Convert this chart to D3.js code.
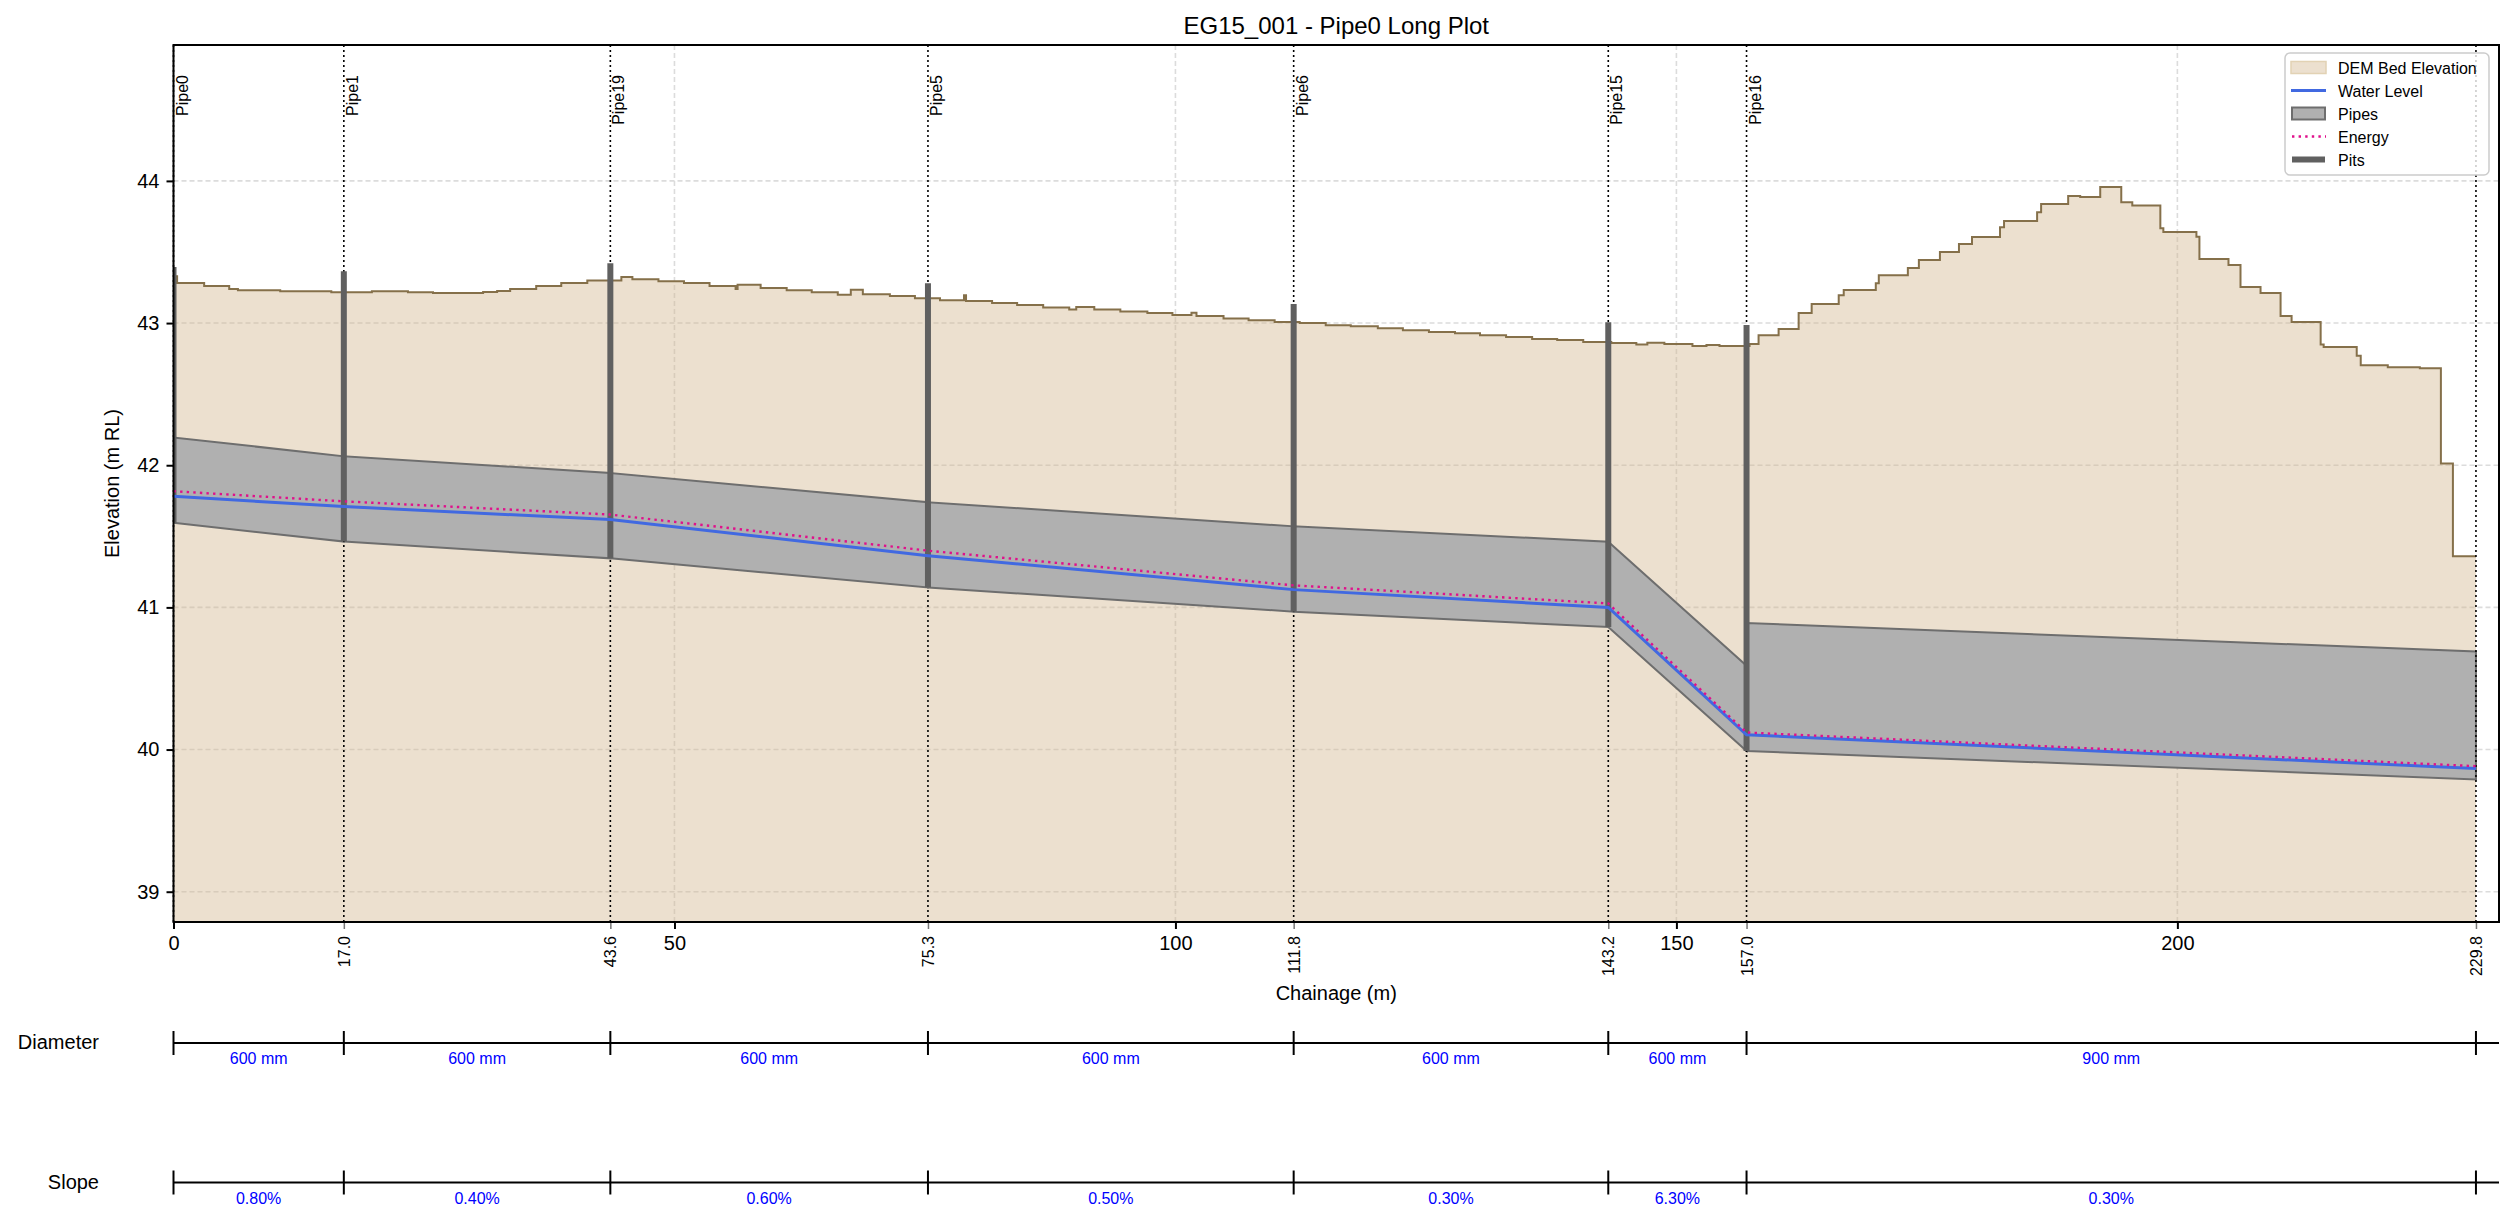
<!DOCTYPE html>
<html lang="en">
<head>
<meta charset="utf-8">
<title>EG15_001 - Pipe0 Long Plot</title>
<script src="https://cdn.jsdelivr.net/npm/d3@7"></script>
<style>
body { margin: 0; background: #fff; }
svg { font-family: "Liberation Sans", Arial, sans-serif; }
</style>
</head>
<body>
<script>

// Data ------------------------------------------------------------------------
var nodeChainage = [0, 17.0, 43.6, 75.3, 111.8, 143.2, 157.0, 229.8];
var pipeNames = ["Pipe0", "Pipe1", "Pipe19", "Pipe5", "Pipe6", "Pipe15", "Pipe16"];
var pipeDiameter = [600, 600, 600, 600, 600, 600, 900];
var pipeSlope = [0.80, 0.40, 0.60, 0.50, 0.30, 6.30, 0.30];
var pipeUsInvert = [41.595, 41.463, 41.345, 41.14, 40.97, 40.862, 39.99];
var pipeDsInvert = [41.463, 41.345, 41.14, 40.97, 40.862, 39.99, 39.79];
var pitTop = [43.394, 43.364, 43.42, 43.28, 43.134, 43.005, 42.986];
var waterLevel = [41.782, 41.709, 41.618, 41.364, 41.125, 41.0, 40.104, 39.866];
var energyLevel = [41.817, 41.746, 41.653, 41.399, 41.155, 41.028, 40.12, 39.883];

var demChainage = [0, 0.36, 3.06, 5.56, 6.43, 10.65, 15.75, 19.8, 23.4, 25.9, 30.9, 32.3, 33.6, 36.2, 38.7,
    41.3, 44.7, 45.8, 48.4, 50.95, 53.5, 56.1, 56.3, 58.6, 61.2, 63.7, 66.3, 67.6, 68.8, 71.5, 74.0, 76.5,
    78.9, 79.1, 81.7, 84.2, 86.8, 89.4, 90.1, 91.9, 94.5, 97.2, 99.7, 101.6, 102.1, 104.8, 107.3, 109.9,
    112.4, 115.0, 117.5, 120.2, 122.7, 125.3, 127.9, 130.4, 133.0, 135.6, 138.1, 140.7, 143.5, 146.0,
    147.1, 148.8, 151.6, 153.0, 154.3, 157.3, 158.2, 160.2, 162.2, 163.5, 166.2, 166.7, 169.9, 170.2,
    173.1, 174.2, 176.3, 178.2, 179.5, 182.3, 182.7, 186.0, 186.4, 189.1, 190.3, 192.3, 194.4, 195.5,
    198.3, 198.6, 201.9, 202.2, 205.1, 206.3, 208.3, 210.3, 211.4, 214.3, 214.6, 217.9, 218.3, 221.0,
    224.2, 226.3, 227.5, 229.8];
var demElevation = [43.33, 43.282, 43.261, 43.24, 43.23, 43.223, 43.216, 43.223, 43.216, 43.211, 43.218,
    43.225, 43.24, 43.26, 43.282, 43.30, 43.324, 43.308, 43.294, 43.282, 43.26, 43.24, 43.27, 43.247,
    43.23, 43.216, 43.20, 43.235, 43.202, 43.19, 43.174, 43.16, 43.196, 43.155, 43.141, 43.127, 43.11,
    43.096, 43.113, 43.096, 43.082, 43.07, 43.056, 43.073, 43.049, 43.033, 43.019, 43.007, 43.0, 42.984,
    42.977, 42.963, 42.949, 42.937, 42.928, 42.914, 42.902, 42.888, 42.881, 42.867, 42.86, 42.85, 42.862,
    42.853, 42.839, 42.846, 42.839, 42.852, 42.915, 42.958, 43.07, 43.134, 43.195, 43.232, 43.28, 43.336,
    43.387, 43.444, 43.5, 43.556, 43.606, 43.674, 43.718, 43.78, 43.838, 43.894, 43.887, 43.958, 43.85,
    43.827, 43.667, 43.641, 43.607, 43.451, 43.408, 43.254, 43.211, 43.049, 43.007, 42.85, 42.831, 42.77,
    42.704, 42.69, 42.683, 42.012, 41.359, 41.359];

var xMajorTicks = [0, 50, 100, 150, 200];
var yMajorTicks = [39, 40, 41, 42, 43, 44];
var legendLabels = ["DEM Bed Elevation", "Water Level", "Pipes", "Energy", "Pits"];

// Sizes & scales ---------------------------------------------------------------
var width = 2512, height = 1221;
var plotLeft = 173.5, plotRight = 2499, plotTop = 45, plotBottom = 922;

var x = d3.scaleLinear().domain([0, 232.1]).range([plotLeft, plotRight]);
var y = d3.scaleLinear().domain([38.787, 44.956]).range([plotBottom, plotTop]);

var svg = d3.select("body").append("svg")
    .attr("width", width)
    .attr("height", height);

svg.append("defs").append("clipPath").attr("id", "plotClip")
    .append("rect")
    .attr("x", plotLeft).attr("y", plotTop)
    .attr("width", plotRight - plotLeft).attr("height", plotBottom - plotTop);

// Grid -------------------------------------------------------------------------
var grid = svg.append("g");
grid.selectAll(".gx").data(xMajorTicks).join("line")
    .attr("x1", d => x(d)).attr("x2", d => x(d))
    .attr("y1", plotTop).attr("y2", plotBottom)
    .attr("stroke", "#dcdcdc").attr("stroke-width", 1.6).attr("stroke-dasharray", "5,3");
grid.selectAll(".gy").data(yMajorTicks).join("line")
    .attr("x1", plotLeft).attr("x2", plotRight)
    .attr("y1", d => y(d)).attr("y2", d => y(d))
    .attr("stroke", "#dcdcdc").attr("stroke-width", 1.6).attr("stroke-dasharray", "5,3");

var plot = svg.append("g").attr("clip-path", "url(#plotClip)");

// DEM ground -------------------------------------------------------------------
var demData = demChainage.map((c, i) => ({c: c, v: demElevation[i]}));
plot.append("path").datum(demData)
    .attr("d", d3.area().curve(d3.curveStepAfter)
        .x(d => x(d.c)).y0(plotBottom).y1(d => y(d.v)))
    .attr("fill", "#d2b48c").attr("fill-opacity", 0.42);
plot.append("path").datum(demData)
    .attr("d", d3.line().curve(d3.curveStepAfter).x(d => x(d.c)).y(d => y(d.v)))
    .attr("fill", "none").attr("stroke", "#85704a").attr("stroke-width", 2);

// Pipes ------------------------------------------------------------------------
var pipes = pipeNames.map((name, i) => ({
    name: name, us: nodeChainage[i], ds: nodeChainage[i + 1],
    usInv: pipeUsInvert[i], dsInv: pipeDsInvert[i],
    dia: pipeDiameter[i] / 1000, slope: pipeSlope[i], mm: pipeDiameter[i]
}));
plot.selectAll(".pipe").data(pipes).join("path")
    .attr("d", p => d3.line()([
        [x(p.us), y(p.usInv)], [x(p.ds), y(p.dsInv)],
        [x(p.ds), y(p.dsInv + p.dia)], [x(p.us), y(p.usInv + p.dia)]]) + "Z")
    .attr("fill", "#b0b0b0").attr("stroke", "#6e6e6e").attr("stroke-width", 2)
    .attr("stroke-linejoin", "miter");

// Node lines (dotted) ----------------------------------------------------------
svg.append("g").selectAll("line").data(nodeChainage).join("line")
    .attr("x1", d => x(d)).attr("x2", d => x(d))
    .attr("y1", plotTop).attr("y2", plotBottom)
    .attr("stroke", "#000").attr("stroke-width", 1.6).attr("stroke-dasharray", "2,3");

var overlay = svg.append("g").attr("clip-path", "url(#plotClip)");

// Pits -------------------------------------------------------------------------
overlay.selectAll(".pit").data(pitTop).join("line")
    .attr("x1", (d, i) => x(nodeChainage[i])).attr("x2", (d, i) => x(nodeChainage[i]))
    .attr("y1", d => y(d))
    .attr("y2", (d, i) => {
        var inv = [];
        if (i < pipeUsInvert.length) inv.push(pipeUsInvert[i]);
        if (i > 0) inv.push(pipeDsInvert[i - 1]);
        return y(d3.min(inv));
    })
    .attr("stroke", "#606060").attr("stroke-width", 6);

// Water & energy ---------------------------------------------------------------
var hydLine = d3.line().x((d, i) => x(nodeChainage[i])).y(d => y(d));
overlay.append("path").datum(waterLevel).attr("d", hydLine)
    .attr("fill", "none").attr("stroke", "#4169e1").attr("stroke-width", 3);
overlay.append("path").datum(energyLevel).attr("d", hydLine)
    .attr("fill", "none").attr("stroke", "#e0108c").attr("stroke-width", 2.4)
    .attr("stroke-dasharray", "2.4,4.2");

// Pipe labels ------------------------------------------------------------------
svg.append("g").selectAll("text").data(pipes).join("text")
    .attr("transform", p => "translate(" + (x(p.us) + 14) + ",75) rotate(-90)")
    .attr("text-anchor", "end")
    .attr("font-size", 16)
    .text(p => p.name);

// Axes -------------------------------------------------------------------------
var xAxis = svg.append("g").attr("transform", "translate(0," + plotBottom + ")")
    .call(d3.axisBottom(x).tickValues(xMajorTicks).tickFormat(d3.format("d"))
        .tickSize(7).tickPadding(7));
xAxis.select(".domain").remove();
xAxis.selectAll(".tick line").attr("stroke-width", 2);
xAxis.selectAll("text").attr("font-size", 20).attr("font-family", "Liberation Sans, Arial, sans-serif");

var nodeAxis = svg.append("g").attr("transform", "translate(0," + plotBottom + ")")
    .call(d3.axisBottom(x).tickValues(nodeChainage.slice(1)).tickFormat(d3.format(".1f"))
        .tickSize(7));
nodeAxis.select(".domain").remove();
nodeAxis.selectAll(".tick line").attr("stroke", "#777").attr("stroke-width", 1.5);
nodeAxis.selectAll("text")
    .attr("transform", "rotate(-90)")
    .attr("x", -14).attr("y", 0).attr("dy", "0.35em")
    .attr("text-anchor", "end")
    .attr("font-size", 16).attr("font-family", "Liberation Sans, Arial, sans-serif");

var yAxis = svg.append("g").attr("transform", "translate(" + plotLeft + ",0)")
    .call(d3.axisLeft(y).tickValues(yMajorTicks).tickFormat(d3.format("d"))
        .tickSize(7).tickPadding(7));
yAxis.select(".domain").remove();
yAxis.selectAll(".tick line").attr("stroke-width", 2);
yAxis.selectAll("text").attr("font-size", 20).attr("font-family", "Liberation Sans, Arial, sans-serif");

// frame
svg.append("rect")
    .attr("x", plotLeft).attr("y", plotTop)
    .attr("width", plotRight - plotLeft).attr("height", plotBottom - plotTop)
    .attr("fill", "none").attr("stroke", "#000").attr("stroke-width", 2);

// titles
svg.append("text").attr("x", (plotLeft + plotRight) / 2).attr("y", 34)
    .attr("text-anchor", "middle").attr("font-size", 24)
    .text("EG15_001 - Pipe0 Long Plot");
svg.append("text").attr("x", (plotLeft + plotRight) / 2).attr("y", 1000)
    .attr("text-anchor", "middle").attr("font-size", 20)
    .text("Chainage (m)");
svg.append("text")
    .attr("transform", "translate(119," + ((plotTop + plotBottom) / 2) + ") rotate(-90)")
    .attr("text-anchor", "middle").attr("font-size", 20)
    .text("Elevation (m RL)");

// Legend -----------------------------------------------------------------------
var legend = svg.append("g").attr("transform", "translate(2285,53)");
legend.append("rect").attr("width", 204).attr("height", 122).attr("rx", 5)
    .attr("fill", "#fff").attr("fill-opacity", 0.8)
    .attr("stroke", "#cccccc").attr("stroke-width", 1.5);
var rowY = legendLabels.map((d, i) => 14.5 + i * 23);
legend.append("rect").attr("x", 6).attr("y", rowY[0] - 6).attr("width", 35).attr("height", 12)
    .attr("fill", "#d2b48c").attr("fill-opacity", 0.42).attr("stroke", "#e2d2b4").attr("stroke-width", 1.5);
legend.append("line").attr("x1", 6).attr("x2", 41).attr("y1", rowY[1]).attr("y2", rowY[1])
    .attr("stroke", "#4169e1").attr("stroke-width", 3);
legend.append("rect").attr("x", 7).attr("y", rowY[2] - 6).attr("width", 33).attr("height", 12)
    .attr("fill", "#b0b0b0").attr("stroke", "#6e6e6e").attr("stroke-width", 2);
legend.append("line").attr("x1", 7).attr("x2", 41).attr("y1", rowY[3]).attr("y2", rowY[3])
    .attr("stroke", "#e0108c").attr("stroke-width", 2.4).attr("stroke-dasharray", "2.4,4.2");
legend.append("line").attr("x1", 7).attr("x2", 40).attr("y1", rowY[4]).attr("y2", rowY[4])
    .attr("stroke", "#606060").attr("stroke-width", 6);
legend.selectAll(".lt").data(legendLabels).join("text")
    .attr("x", 53).attr("y", (d, i) => rowY[i] + 6)
    .attr("font-size", 16)
    .text(d => d);

// Diameter & slope rows ----------------------------------------------------------
function infoRow(rowLine, label, fmt) {
    var g = svg.append("g");
    g.append("text").attr("x", 99).attr("y", rowLine + 6)
        .attr("text-anchor", "end").attr("font-size", 20).text(label);
    g.append("line").attr("x1", x(0)).attr("x2", plotRight)
        .attr("y1", rowLine).attr("y2", rowLine)
        .attr("stroke", "#000").attr("stroke-width", 2);
    g.selectAll(".tk").data(nodeChainage).join("line")
        .attr("x1", d => x(d)).attr("x2", d => x(d))
        .attr("y1", rowLine - 12).attr("y2", rowLine + 12)
        .attr("stroke", "#000").attr("stroke-width", 2);
    g.selectAll(".lb").data(pipes).join("text")
        .attr("x", p => x((p.us + p.ds) / 2)).attr("y", rowLine + 21)
        .attr("text-anchor", "middle").attr("font-size", 16).attr("fill", "#0000ff")
        .text(fmt);
}
infoRow(1043, "Diameter", p => p.mm + " mm");
infoRow(1182.5, "Slope", p => p.slope.toFixed(2) + "%");

</script>
</body>
</html>
